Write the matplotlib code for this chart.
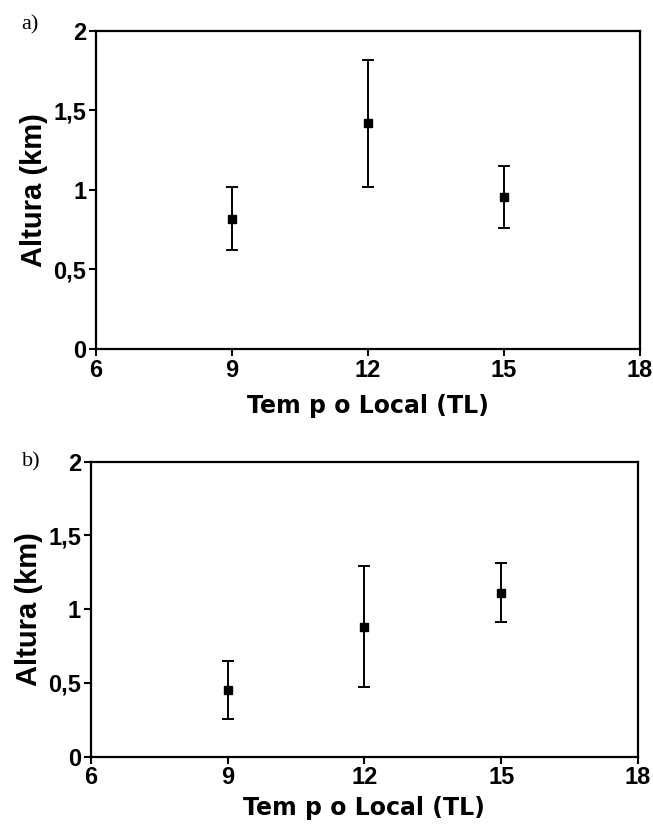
import matplotlib.pyplot as plt
from matplotlib import font_manager

# hora local (TL) e altura media com desvio
tempo = [9, 12, 15]
altura_a = [0.82, 1.42, 0.955]
erro_a = [0.2, 0.4, 0.195]
altura_b = [0.45, 0.88, 1.11]
erro_b = [0.195, 0.41, 0.2]

xticks = [6, 9, 12, 15, 18]
yticks = [0, 0.5, 1, 1.5, 2]
ytick_labels = ['0', '0,5', '1', '1,5', '2']

names = {f.name for f in font_manager.fontManager.ttflist}
narrow = 'Liberation Sans Narrow' if 'Liberation Sans Narrow' in names else 'Liberation Sans'


def draw_panel(ax, y, err, pad):
    ax.errorbar(tempo, y, yerr=err, fmt='s', color='black', ms=6,
                ecolor='black', elinewidth=1.4, capsize=4, capthick=1.4)
    ax.set_xlim(6, 18)
    ax.set_ylim(0, 2)
    ax.set_xticks(xticks)
    ax.set_yticks(yticks)
    ax.set_xticklabels([str(t) for t in xticks], fontfamily=narrow,
                       fontweight='bold', fontsize=17)
    ax.set_yticklabels(ytick_labels, fontfamily=narrow,
                       fontweight='bold', fontsize=17)
    ax.tick_params(direction='out', length=5, width=1.5, pad=2)
    for s in ax.spines.values():
        s.set_linewidth(1.6)
    ax.set_ylabel('Altura (km)', fontfamily=narrow,
                  fontweight='bold', fontsize=21, labelpad=4)
    ax.set_xlabel('Tem p o Local (TL)', fontfamily='DejaVu Sans',
                  fontweight='bold', fontsize=17, labelpad=pad)


fig = plt.figure(figsize=(6.53, 8.35), dpi=100)
ax1 = fig.add_axes([0.147, 0.582, 0.833, 0.381])
ax2 = fig.add_axes([0.139, 0.094, 0.838, 0.353])

draw_panel(ax1, altura_a, erro_a, 9)
draw_panel(ax2, altura_b, erro_b, 5)

fig.text(0.033, 0.982, 'a)', fontfamily='Liberation Serif', fontsize=16, va='top')
fig.text(0.033, 0.459, 'b)', fontfamily='Liberation Serif', fontsize=16, va='top')

fig.savefig('out.png', dpi=100, facecolor='white')
